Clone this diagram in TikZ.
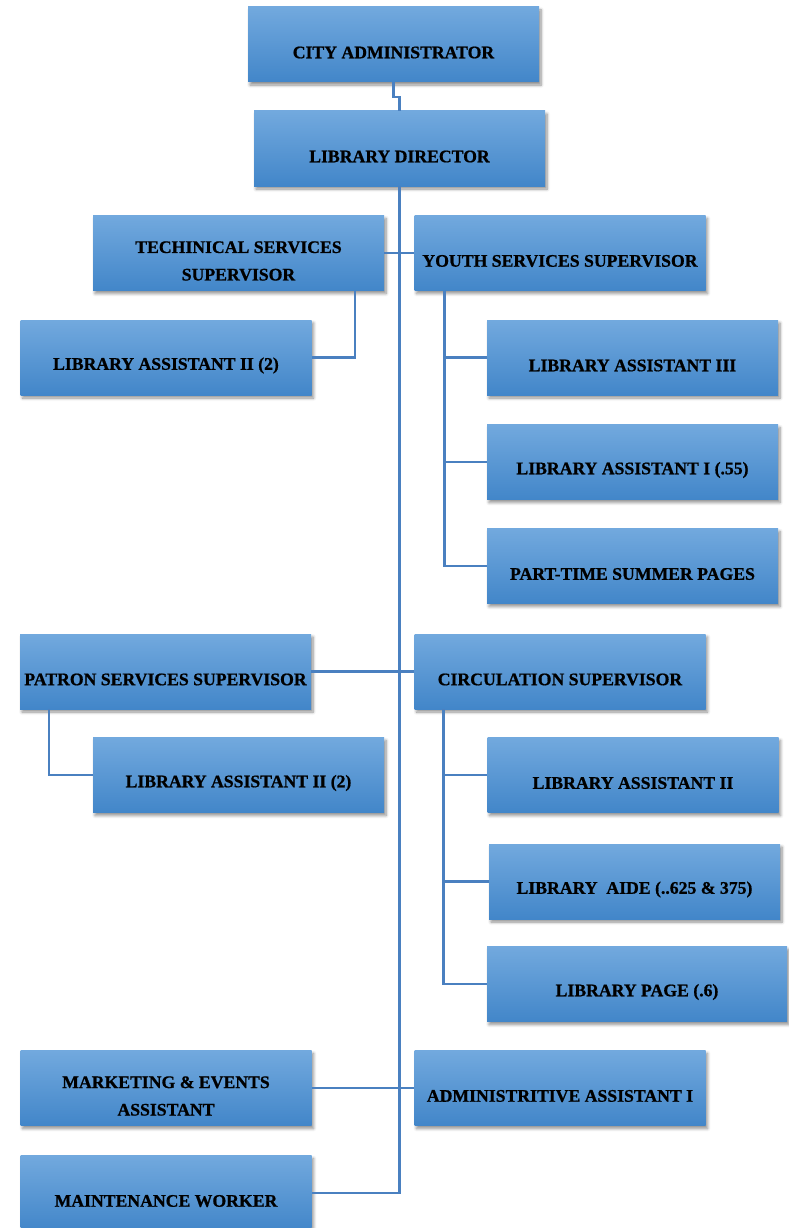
\documentclass[tikz,border=0pt]{standalone}
\usepackage{fontspec}
\setmainfont{Liberation Serif}[BoldFeatures={FakeBold=0.8}]
\usetikzlibrary{shadows.blur,calc}
\definecolor{boxtop}{RGB}{114,169,222}
\definecolor{boxbot}{RGB}{66,134,201}
\definecolor{linkc}{RGB}{74,128,192}
\tikzset{
  orgbox/.style={rectangle, inner sep=0pt, minimum width=291pt, minimum height=75pt,
    top color=boxtop, bottom color=boxbot,
    blur shadow={shadow xshift=2pt, shadow yshift=-3pt, shadow opacity=45, shadow blur radius=3pt, shadow blur steps=6}},
  lbl/.style={inner sep=0pt, yshift=-8pt, align=center, text=black,
    font=\fontsize{17.7}{27.5}\selectfont\bfseries},
  link/.style={draw=linkc, line width=2.5pt}
}
\begin{document}
\begin{tikzpicture}[x=1pt,y=-1pt]
\useasboundingbox (0,0) rectangle (788,1228);
\node[orgbox, label={[lbl]center:CITY ADMINISTRATOR}] (ca) at (393.5,44.5) {};
\node[orgbox, label={[lbl]center:LIBRARY DIRECTOR}] (ld) at (399.5,148.5) {};
\node[orgbox, label={[lbl]center:TECHINICAL SERVICES\\SUPERVISOR}] (tss) at (238.5,253) {};
\node[orgbox, label={[lbl]center:YOUTH SERVICES SUPERVISOR}] (yss) at (560,253) {};
\node[orgbox, label={[lbl]center:LIBRARY ASSISTANT II (2)}] (la2a) at (166,357.5) {};
\node[orgbox, label={[lbl]center:LIBRARY ASSISTANT III}] (la3) at (632.5,357.5) {};
\node[orgbox, label={[lbl]center:LIBRARY ASSISTANT I (.55)}] (la1) at (632.5,462) {};
\node[orgbox, label={[lbl]center:PART-TIME SUMMER PAGES}] (pts) at (632.5,566) {};
\node[orgbox, label={[lbl]center:PATRON SERVICES SUPERVISOR}] (pss) at (165.5,671.5) {};
\node[orgbox, label={[lbl]center:CIRCULATION SUPERVISOR}] (cs) at (560,671.5) {};
\node[orgbox, label={[lbl]center:LIBRARY ASSISTANT II (2)}] (la2b) at (238.5,775) {};
\node[orgbox, label={[lbl]center:LIBRARY ASSISTANT II}] (la2c) at (633,775) {};
\node[orgbox, label={[lbl]center:LIBRARY\ \ AIDE (..625 \& 375)}] (aide) at (634.5,881.5) {};
\node[orgbox, minimum width=300pt, label={[lbl]center:LIBRARY PAGE (.6)}] (page) at (637,984) {};
\node[orgbox, label={[lbl]center:MARKETING \& EVENTS\\ASSISTANT}] (mea) at (166,1088) {};
\node[orgbox, label={[lbl]center:ADMINISTRITIVE ASSISTANT I}] (aa) at (560,1088) {};
\node[orgbox, label={[lbl]center:MAINTENANCE WORKER}] (mw) at (166,1193) {};
% connectors
\draw[link] (ca.south) -- ++(0,15) -| (ld.north);
\draw[link] (ld.south) |- (mw.east);
\draw[link] (tss.east) -- (yss.west);
\draw[link] ([xshift=-29pt]tss.south east) |- (la2a.east);
\draw[link] ([xshift=30pt]yss.south west) |- (la3.west);
\draw[link] ([xshift=30pt]yss.south west) |- (la1.west);
\draw[link] ([xshift=30pt]yss.south west) |- (pts.west);
\draw[link] (pss.east) -- (cs.west);
\draw[link] ([xshift=29pt]pss.south west) |- (la2b.west);
\draw[link] ([xshift=29pt]cs.south west) |- (la2c.west);
\draw[link] ([xshift=29pt]cs.south west) |- (aide.west);
\draw[link] ([xshift=29pt]cs.south west) |- (page.west);
\draw[link] (mea.east) -- (aa.west);
\end{tikzpicture}
\end{document}
